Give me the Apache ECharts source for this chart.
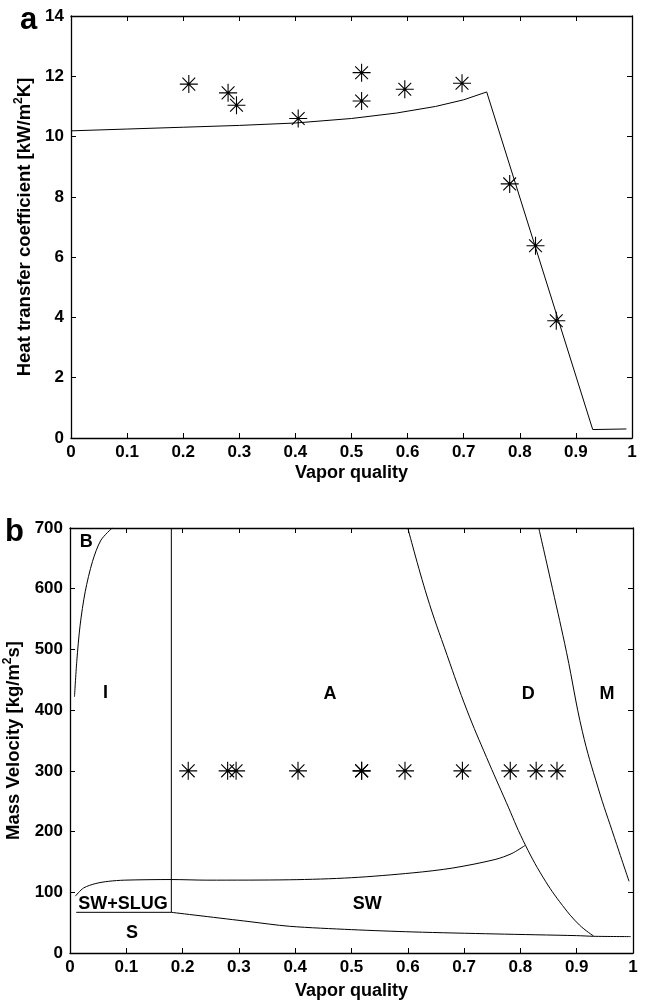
<!DOCTYPE html>
<html>
<head>
<meta charset="utf-8">
<script src="https://cdn.jsdelivr.net/npm/echarts/dist/echarts.min.js"></script>
<style>
  html, body { margin: 0; padding: 0; background: #fff; }
  #main { width: 645px; height: 1002px; }
</style>
</head>
<body>
<div id="main"></div>
<script>
// measured points (panel a and b share vapor quality)
const qExp = [0.21, 0.28, 0.295, 0.405, 0.518, 0.518, 0.595, 0.697, 0.782, 0.828, 0.865];
const hExp = [11.74, 11.45, 11.04, 10.6, 12.12, 11.18, 11.57, 11.77, 8.43, 6.38, 3.89];
const gExp = [300, 300, 300, 300, 300, 300, 300, 300, 300, 300, 300];

// model curve, panel a
const qModel = [0, 0.1, 0.2, 0.3, 0.4, 0.5, 0.58, 0.65, 0.7, 0.741, 0.93, 0.99];
const hModel = [10.19, 10.25, 10.31, 10.37, 10.45, 10.6, 10.78, 11.0, 11.22, 11.48, 0.28, 0.3];

// flow pattern map boundaries, panel b
const bubblyX = [0.008, 0.012, 0.018, 0.027, 0.04, 0.055, 0.075];
const bubblyY = [422, 480, 540, 595, 645, 680, 700];

const slugX = [0.18, 0.18];
const slugY = [700, 67];

const slugFloorX = [0.011, 0.18];
const slugFloorY = [67, 67];

const stratX = [0.18, 0.316, 0.39, 0.5, 0.609, 0.755, 0.9, 0.93, 0.996];
const stratY = [67, 52, 44, 38.5, 34.7, 31.4, 28.6, 27.5, 27];

const wavyX = [0.0095, 0.024, 0.046, 0.068, 0.097, 0.18, 0.243, 0.39, 0.5, 0.609, 0.68, 0.755, 0.785, 0.808];
const wavyY = [93.6, 107, 114.5, 118, 120, 121, 120, 120.6, 124, 132, 140, 154, 164, 177];

const dryoutX = [0.60, 0.634, 0.67, 0.705, 0.74, 0.775, 0.805, 0.84, 0.875, 0.905, 0.93];
const dryoutY = [700, 588, 490, 400, 322, 248, 185, 125, 78, 46, 28];

const mistX = [0.8326, 0.857, 0.882, 0.91, 0.938, 0.967, 0.993];
const mistY = [700, 600, 495, 365, 272, 190, 118];

const regionNames = ['B', 'I', 'A', 'D', 'M', 'SW+SLUG', 'SW', 'S'];
const regionX = [0.029, 0.063, 0.462, 0.814, 0.954, 0.094, 0.528, 0.11];
const regionY = [677, 428, 427, 427, 427, 81, 81, 33];

function pairs(xs, ys) {
  return xs.map(function (x, i) { return [x, ys[i]]; });
}

const FONT = 'Liberation Sans, Arial, sans-serif';
const starPath = 'path://M0,-9L0,9M-9,0L9,0M-6.4,-6.4L6.4,6.4M-6.4,6.4L6.4,-6.4';

function xAx(grid, pos, labels, gap) {
  return {
    type: 'value', gridIndex: grid, position: pos, min: 0, max: 1, interval: 0.1,
    axisLine: { show: true, onZero: false, lineStyle: { color: '#000', width: 1.3 } },
    axisTick: { show: true, inside: true, length: 5, lineStyle: { color: '#000' } },
    splitLine: { show: false },
    axisLabel: {
      show: labels, color: '#000', fontFamily: FONT, fontWeight: 'bold', fontSize: 17, margin: 6,
      formatter: function (v) { return String(Math.round(v * 10) / 10); }
    },
    name: labels ? 'Vapor quality' : '',
    nameLocation: 'middle', nameGap: gap || 26,
    nameTextStyle: { color: '#000', fontFamily: FONT, fontWeight: 'bold', fontSize: 18 }
  };
}

function yAx(grid, pos, max, step, labels, nameParts, gap) {
  const ax = {
    type: 'value', gridIndex: grid, position: pos, min: 0, max: max, interval: step,
    axisLine: { show: true, onZero: false, lineStyle: { color: '#000', width: 1.3 } },
    axisTick: { show: true, inside: true, length: 5, lineStyle: { color: '#000' } },
    splitLine: { show: false },
    axisLabel: { show: labels, color: '#000', fontFamily: FONT, fontWeight: 'bold', fontSize: 17, margin: 7 }
  };
  if (nameParts) {
    ax.name = '{t|' + nameParts[0] + '}{s|2}{t|' + nameParts[1] + '}';
    ax.nameLocation = 'middle';
    ax.nameGap = gap;
    ax.nameRotate = 90;
    ax.nameTextStyle = {
      rich: {
        t: { color: '#000', fontFamily: FONT, fontWeight: 'bold', fontSize: 18.5, lineHeight: 22, verticalAlign: 'bottom' },
        s: { color: '#000', fontFamily: FONT, fontWeight: 'bold', fontSize: 12, lineHeight: 22, verticalAlign: 'top', padding: [0, 0, 9, 0] }
      }
    };
  }
  return ax;
}

const thin = { color: '#000', width: 1 };
const star = { color: 'none', borderColor: '#000', borderWidth: 1.1, opacity: 1 };

const chart = echarts.init(document.getElementById('main'), null, { renderer: 'canvas' });
chart.setOption({
  animation: false,
  backgroundColor: '#fff',
  title: [
    { text: 'a', left: 15, top: 0, textStyle: { fontFamily: FONT, fontWeight: 'bold', fontSize: 31, color: '#000' } },
    { text: 'b', left: 0, top: 512, textStyle: { fontFamily: FONT, fontWeight: 'bold', fontSize: 31, color: '#000' } }
  ],
  grid: [
    { left: 71, top: 16, width: 561, height: 422, outerBoundsMode: 'none', containLabel: false },
    { left: 70, top: 528, width: 563, height: 425, outerBoundsMode: 'none', containLabel: false }
  ],
  xAxis: [xAx(0, 'bottom', true, 26), xAx(0, 'top', false), xAx(1, 'bottom', true, 29), xAx(1, 'top', false)],
  yAxis: [
    yAx(0, 'left', 14, 2, true, ['Heat transfer coefficient [kW/m', 'K]'], 30),
    yAx(0, 'right', 14, 2, false, null),
    yAx(1, 'left', 700, 100, true, ['Mass Velocity [kg/m', 's]'], 33),
    yAx(1, 'right', 700, 100, false, null)
  ],
  series: [
    { type: 'line', xAxisIndex: 0, yAxisIndex: 0, data: pairs(qModel, hModel), showSymbol: false, lineStyle: thin },
    {
      type: 'scatter', xAxisIndex: 0, yAxisIndex: 0, data: pairs(qExp, hExp),
      symbol: starPath, symbolSize: 18, itemStyle: star
    },
    { type: 'line', xAxisIndex: 2, yAxisIndex: 2, data: pairs(bubblyX, bubblyY), showSymbol: false, lineStyle: thin, smooth: 0.3 },
    { type: 'line', xAxisIndex: 2, yAxisIndex: 2, data: pairs(slugX, slugY), showSymbol: false, lineStyle: thin },
    { type: 'line', xAxisIndex: 2, yAxisIndex: 2, data: pairs(slugFloorX, slugFloorY), showSymbol: false, lineStyle: thin },
    { type: 'line', xAxisIndex: 2, yAxisIndex: 2, data: pairs(stratX, stratY), showSymbol: false, lineStyle: thin, smooth: 0.3 },
    { type: 'line', xAxisIndex: 2, yAxisIndex: 2, data: pairs(wavyX, wavyY), showSymbol: false, lineStyle: thin, smooth: 0.3 },
    { type: 'line', xAxisIndex: 2, yAxisIndex: 2, data: pairs(dryoutX, dryoutY), showSymbol: false, lineStyle: thin, smooth: 0.4 },
    { type: 'line', xAxisIndex: 2, yAxisIndex: 2, data: pairs(mistX, mistY), showSymbol: false, lineStyle: thin, smooth: 0.4 },
    {
      type: 'scatter', xAxisIndex: 2, yAxisIndex: 2, data: pairs(qExp, gExp),
      symbol: starPath, symbolSize: 18, itemStyle: star
    },
    {
      type: 'scatter', xAxisIndex: 2, yAxisIndex: 2, symbolSize: 0,
      itemStyle: { opacity: 1 },
      data: regionNames.map(function (n, i) { return { name: n, value: [regionX[i], regionY[i]] }; }),
      label: {
        show: true, position: 'inside', formatter: '{b}', textBorderWidth: 0,
        color: '#000', fontFamily: FONT, fontWeight: 'bold', fontSize: 18
      }
    }
  ]
});
</script>
</body>
</html>
